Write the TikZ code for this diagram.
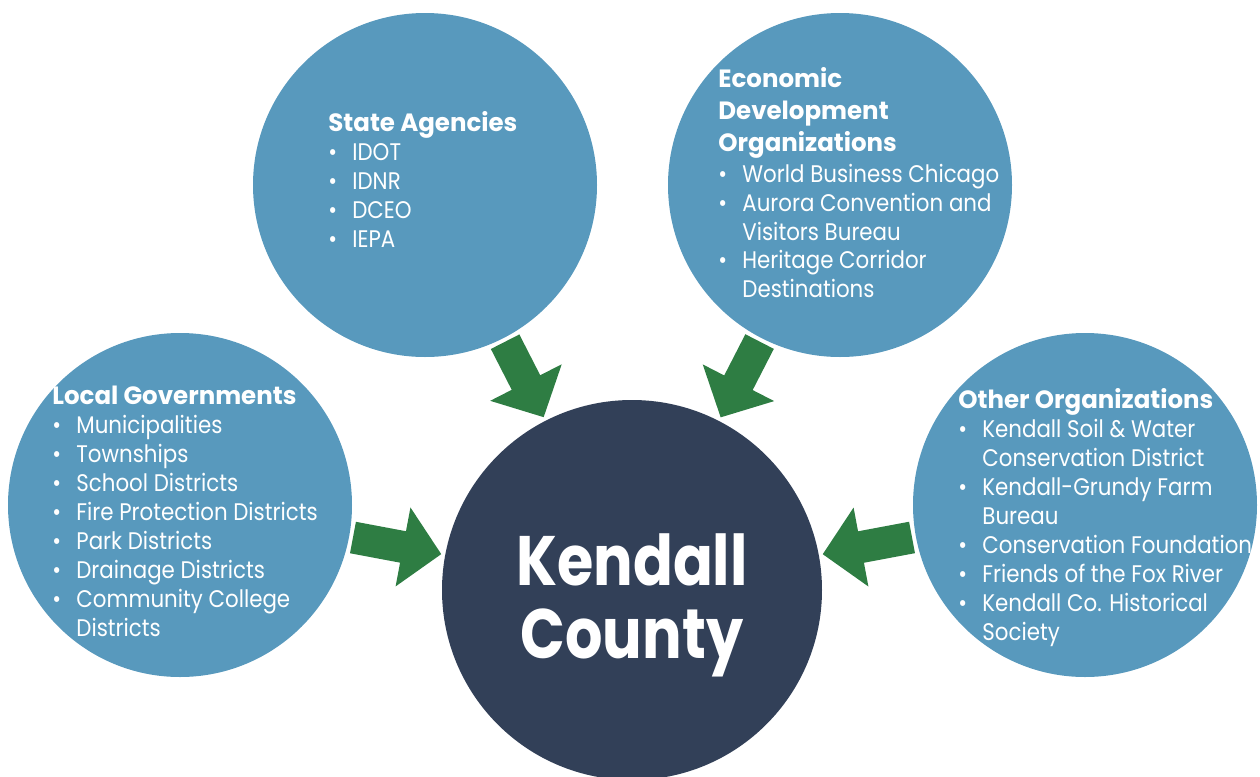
\documentclass[tikz,border=0pt]{standalone}
\usepackage{fontspec}
\setmainfont{Poppins}[FakeStretch=0.89]
\newfontfamily\headfont{Poppins}[FakeStretch=0.98]
\newfontfamily\titlefont{Poppins}[FakeStretch=0.84]
\usetikzlibrary{arrows.meta}
\definecolor{groupblue}{HTML}{5899BD}
\definecolor{countynavy}{HTML}{324058}
\definecolor{feedgreen}{HTML}{2E7D43}
\newcommand{\grp}[1]{\multicolumn{2}{@{}l@{}}{\headfont\bfseries\fontsize{12.5}{15}\selectfont #1}}
\newcommand{\itm}{\textbullet}

\begin{document}
\begin{tikzpicture}[x=0.5pt, y=-0.5pt,
    group/.style={circle, fill=groupblue, minimum size=172pt, inner sep=0pt, outer sep=0pt},
    county/.style={circle, fill=countynavy, minimum size=190pt, inner sep=0pt, outer sep=0pt},
    list/.style={text=white, inner sep=0pt, anchor=base west, font=\fontsize{12}{14.5}\selectfont},
    title/.style={text=white, inner sep=0pt, anchor=base, font=\titlefont\bfseries\fontsize{35}{36.5}\selectfont},
    feed/.style={feedgreen, line width=16pt, -{Triangle[length=19.5pt, width=39pt]}, shorten <=2pt, shorten >=2pt}
  ]
  \useasboundingbox (0,0) rectangle (1260,777);

  \node[group] (state) at (425,185) {};
  \node[group] (econ) at (840,185) {};
  \node[group] (local) at (180,505) {};
  \node[group] (other) at (1085,505) {};
  \node[county] (kendall) at (632,590) {};

  \foreach \g in {state,econ,local,other} {
    \draw[feed] (\g) -- (kendall);
  }

  \node[list] (statetxt) at (328,131) {\begin{tabular}[t]{@{}p{12pt}@{}l@{}}
    \grp{State Agencies}\\
    \itm & IDOT\\
    \itm & IDNR\\
    \itm & DCEO\\
    \itm & IEPA
  \end{tabular}};
  \node[list] (econtxt) at (718,87) {\begin{tabular}[t]{@{}p{12pt}@{}l@{}}
    \grp{Economic}\\[1.5pt]
    \grp{Development}\\[1.5pt]
    \grp{Organizations}\\[1pt]
    \itm & World Business Chicago\\
    \itm & Aurora Convention and\\
         & Visitors Bureau\\
    \itm & Heritage Corridor\\
         & Destinations
  \end{tabular}};
  \node[list] (localtxt) at (52,404) {\begin{tabular}[t]{@{}p{12pt}@{}l@{}}
    \grp{Local Governments}\\
    \itm & Municipalities\\
    \itm & Townships\\
    \itm & School Districts\\
    \itm & Fire Protection Districts\\
    \itm & Park Districts\\
    \itm & Drainage Districts\\
    \itm & Community College\\
         & Districts
  \end{tabular}};
  \node[list] (othertxt) at (958,408) {\begin{tabular}[t]{@{}p{12pt}@{}l@{}}
    \grp{Other Organizations}\\
    \itm & Kendall Soil \& Water\\
         & Conservation District\\
    \itm & Kendall-Grundy Farm\\
         & Bureau\\
    \itm & Conservation Foundation\\
    \itm & Friends of the Fox River\\
    \itm & Kendall Co. Historical\\
         & Society
  \end{tabular}};
  \node[title] (kendalltxt) at (632,585) {\begin{tabular}[t]{@{}c@{}}Kendall\\County\end{tabular}};
\end{tikzpicture}
\end{document}
